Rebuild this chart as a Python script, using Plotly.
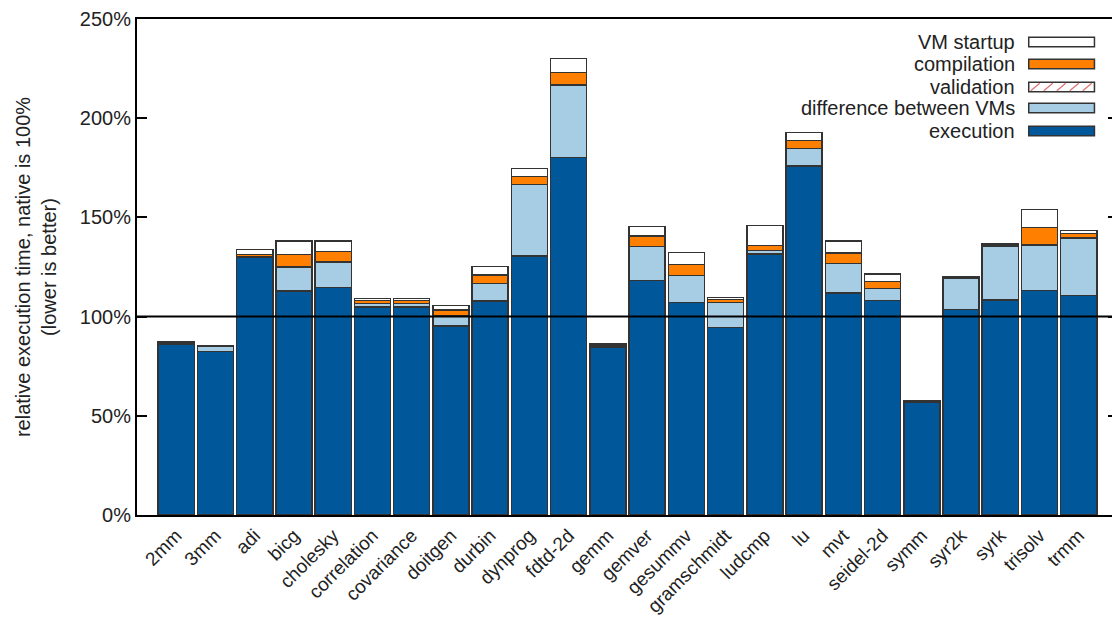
import plotly.graph_objects as go

benchmarks = ["2mm", "3mm", "adi", "bicg", "cholesky", "correlation", "covariance",
              "doitgen", "durbin", "dynprog", "fdtd-2d", "gemm", "gemver", "gesummv",
              "gramschmidt", "ludcmp", "lu", "mvt", "seidel-2d", "symm", "syr2k",
              "syrk", "trisolv", "trmm"]

execution = [86.3, 82.3, 130.0, 113.0, 114.6, 104.8, 104.8, 95.3, 107.9, 130.5, 180.3,
             84.8, 118.3, 107.2, 94.4, 131.5, 175.9, 111.9, 108.2, 56.6, 103.7, 108.4,
             113.1, 110.7]
difference = [0.0, 2.6, 0.0, 12.0, 12.8, 1.8, 1.8, 5.3, 8.7, 36.2, 36.4, 1.0, 17.1, 13.6,
              12.8, 1.7, 8.9, 14.8, 5.9, 0.4, 15.6, 26.9, 23.0, 28.8]
validation = [0.0] * 24
compilation = [0.6, 0.0, 1.2, 6.2, 5.3, 1.5, 1.5, 2.7, 4.4, 3.8, 6.3, 0.0, 5.2, 5.5, 1.5,
               2.7, 3.9, 5.3, 3.7, 0.6, 0.5, 0.8, 8.9, 2.5]
startup = [0.4, 0.6, 2.5, 6.8, 5.3, 1.1, 1.1, 2.4, 4.2, 4.2, 7.0, 0.5, 4.9, 5.9, 1.0,
           10.1, 4.2, 6.0, 3.7, 0.2, 0.3, 0.6, 9.1, 1.3]

y_ticks = [0, 50, 100, 150, 200, 250]
y_tick_labels = ["0%", "50%", "100%", "150%", "200%", "250%"]

series = [
    ("execution", execution, "#00589a"),
    ("difference between VMs", difference, "#a6cde3"),
    ("validation", validation, "white"),
    ("compilation", compilation, "#ff7f00"),
    ("VM startup", startup, "white"),
]

FONT = "Liberation Sans, Arial, sans-serif"
FS = 20
fig = go.Figure()
for name, vals, color in series:
    kw = {}
    if name == "validation":
        kw["marker_pattern"] = dict(shape="/", fgcolor="#e07070", bgcolor="white", size=10)
    fig.add_trace(go.Bar(
        x=list(range(len(benchmarks))), y=vals, name=name,
        marker=dict(color=color, line=dict(color="#333333", width=1.5)),
        showlegend=False, **kw))

fig.add_hline(y=100, line=dict(color="black", width=2), layer="above")

# custom legend (text to the left of swatch)
legend_rows = [("VM startup", "white", False),
               ("compilation", "#ff7f00", False),
               ("validation", "white", True),
               ("difference between VMs", "#a6cde3", False),
               ("execution", "#00589a", False)]
row_y = [0.9536, 0.9093, 0.8629, 0.8206, 0.7742]
sx0, sx1 = 0.909, 0.976
hh = 0.0095
for (label, col, hatch), yy in zip(legend_rows, row_y):
    fig.add_annotation(x=0.897, y=yy, xref="paper", yref="paper", text=label,
                       showarrow=False, xanchor="right", yanchor="middle",
                       font=dict(family=FONT, size=FS, color="#222222"))
    fig.add_shape(type="rect", xref="paper", yref="paper", x0=sx0, x1=sx1,
                  y0=yy - hh, y1=yy + hh, fillcolor=col,
                  line=dict(color="#333333", width=1.5))
    if hatch:
        w = 981.0
        for k in range(5):
            xa = sx0 + (2 + 13 * k) / w
            xb = xa + 9 / w
            fig.add_shape(type="line", xref="paper", yref="paper", x0=xa, x1=xb,
                          y0=yy - hh + 0.002, y1=yy + hh - 0.002,
                          line=dict(color="#e07070", width=1.2))

fig.update_layout(
    width=1112, height=618,
    margin=dict(l=129, r=2, t=11, b=111),
    barmode="stack", bargap=0.08,
    plot_bgcolor="white", paper_bgcolor="white",
    font=dict(family=FONT, size=FS, color="#222222"),
    showlegend=False,
)
fig.update_xaxes(
    range=[-1, 24], tickmode="array", tickvals=list(range(len(benchmarks))),
    ticktext=benchmarks, tickangle=-45, ticks="", showgrid=False,
    showline=True, linecolor="black", linewidth=2, mirror=True, automargin=False,
    tickfont=dict(family=FONT, size=19, color="#222222"),
)
fig.update_yaxes(
    range=[0, 250], tickmode="array", tickvals=y_ticks, ticktext=y_tick_labels,
    ticks="inside", ticklen=10, tickwidth=1.5, tickcolor="black",
    showgrid=False, zeroline=False, automargin=False,
    showline=True, linecolor="black", linewidth=2, mirror="ticks",
    tickfont=dict(family=FONT, size=FS, color="#222222"),
    title=dict(text="relative execution time, native is 100%<br>(lower is better)",
               font=dict(family=FONT, size=FS, color="#222222"), standoff=18),
)

fig.write_html("out.html")
